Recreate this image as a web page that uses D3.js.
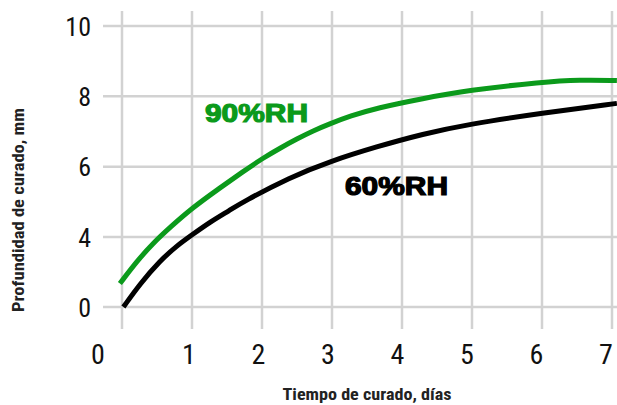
<!DOCTYPE html>
<html>
<head>
<meta charset="utf-8">
<script src="https://cdn.jsdelivr.net/npm/d3@7"></script>
<style>
  html, body { margin: 0; padding: 0; background: #fff; }
  svg { display: block; }
</style>
</head>
<body>
<svg id="chart" width="617" height="405"></svg>
<script>
// ---- data ----
const xTickLabels = ["0", "1", "2", "3", "4", "5", "6", "7"];
const xGridValues = [0, 1, 2, 3, 4, 5, 6, 7];
const yTickValues = [0, 4, 6, 8, 10];
const yTickLabels = ["0", "4", "6", "8", "10"];

const days60 = [0.02, 0.26, 0.54, 0.78, 1.00, 1.26, 1.54, 1.73, 2.40, 2.97, 3.64, 4.30, 4.93, 6.01, 7.07];
const depth60 = [0.0, 1.34, 2.63, 3.49, 4.06, 4.43, 4.76, 5.00, 5.70, 6.15, 6.57, 6.93, 7.20, 7.53, 7.80];

const days90 = [-0.03, 0.21, 0.44, 0.69, 1.00, 1.36, 1.73, 2.01, 2.26, 2.50, 2.73, 2.97, 3.26, 3.64, 4.30, 4.93, 6.01, 6.54, 7.07];
const depth90 = [1.34, 2.60, 3.63, 4.28, 4.82, 5.34, 5.86, 6.24, 6.53, 6.79, 7.02, 7.22, 7.44, 7.67, 7.94, 8.17, 8.41, 8.47, 8.45];

const seriesNames = ["90%RH", "60%RH"];
const seriesColors = ["#0b9a1b", "#000000"];

const xTitle = "Tiempo de curado, días";
const yTitle = "Profundidad de curado, mm";

// ---- scales ----
const svg = d3.select("#chart");
const x = d3.scaleLinear().domain([0, 7]).range([122, 612]);
const xLabel = d3.scaleLinear().domain([0, 1, 7]).range([98, 189, 606]);
const y = d3.scaleLinear().domain([0, 4, 10]).range([307, 237, 26]);

const narrow = "'Liberation Sans Narrow', 'Arial Narrow', 'Roboto Condensed', sans-serif";
const gridColor = "#d2d2d2";

// grid
svg.append("g").selectAll("line").data(xGridValues).join("line")
  .attr("x1", d => x(d)).attr("x2", d => x(d))
  .attr("y1", 11).attr("y2", 329)
  .attr("stroke", gridColor).attr("stroke-width", 2.5);

svg.append("g").selectAll("line").data(yTickValues).join("line")
  .attr("x1", 103).attr("x2", 617)
  .attr("y1", d => y(d)).attr("y2", d => y(d))
  .attr("stroke", gridColor).attr("stroke-width", 2.5);

// y tick labels
svg.append("g").selectAll("text").data(yTickValues).join("text")
  .attr("x", 91).attr("y", d => y(d) + 9.5)
  .attr("text-anchor", "end")
  .attr("font-family", narrow).attr("font-size", 26).attr("fill", "#111")
  .text((d, i) => yTickLabels[i]);

// x tick labels
svg.append("g").selectAll("text").data(xTickLabels).join("text")
  .attr("x", (d, i) => xLabel(i)).attr("y", 364)
  .attr("text-anchor", "middle")
  .attr("font-family", narrow).attr("font-size", 28).attr("fill", "#111")
  .text(d => d);

// axis titles
svg.append("text")
  .attr("x", 367).attr("y", 400)
  .attr("text-anchor", "middle")
  .attr("font-family", narrow).attr("font-weight", "bold").attr("font-size", 17)
  .attr("textLength", 169).attr("lengthAdjust", "spacingAndGlyphs")
  .attr("fill", "#222")
  .text(xTitle);

svg.append("text")
  .attr("transform", "translate(24,210) rotate(-90)")
  .attr("text-anchor", "middle")
  .attr("font-family", narrow).attr("font-weight", "bold").attr("font-size", 17)
  .attr("textLength", 204).attr("lengthAdjust", "spacingAndGlyphs")
  .attr("fill", "#222")
  .text(yTitle);

// lines
const line = d3.line().x(d => x(d[0])).y(d => y(d[1])).curve(d3.curveBasis);
const series = [d3.zip(days90, depth90), d3.zip(days60, depth60)];

svg.append("g").selectAll("path").data(series).join("path")
  .attr("d", line)
  .attr("fill", "none")
  .attr("stroke", (d, i) => seriesColors[i])
  .attr("stroke-width", 5);

// series labels
const labelPos = [{ x: 205, y: 122, w: 103 }, { x: 345, y: 195, w: 103 }];
svg.append("g").selectAll("text").data(seriesNames).join("text")
  .attr("x", (d, i) => labelPos[i].x).attr("y", (d, i) => labelPos[i].y)
  .attr("font-family", "'Liberation Sans', Arial, sans-serif")
  .attr("font-weight", "bold").attr("font-size", 25)
  .attr("textLength", (d, i) => labelPos[i].w).attr("lengthAdjust", "spacingAndGlyphs")
  .attr("fill", (d, i) => seriesColors[i])
  .attr("stroke", (d, i) => seriesColors[i]).attr("stroke-width", 1.2)
  .text(d => d);
</script>
</body>
</html>
